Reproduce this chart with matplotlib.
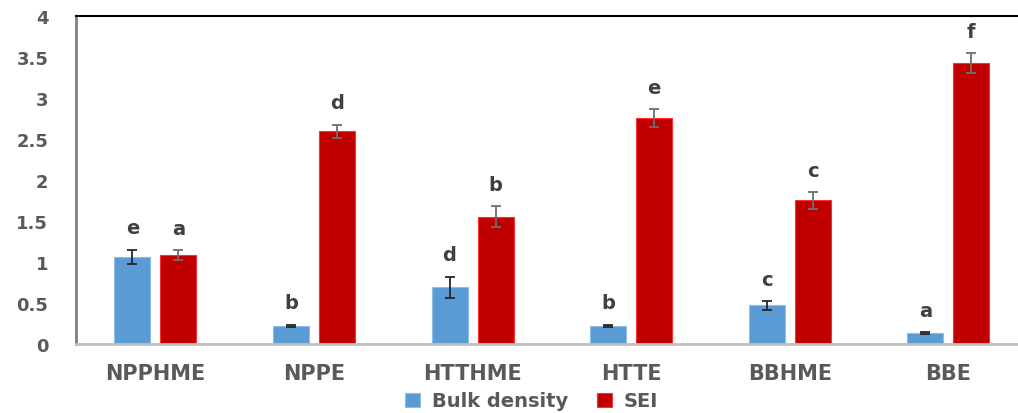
import numpy as np
import matplotlib.pyplot as plt

categories = ['NPPHME', 'NPPE', 'HTTHME', 'HTTE', 'BBHME', 'BBE']
bulk_density = [1.06, 0.22, 0.69, 0.22, 0.47, 0.13]
bulk_err = [0.09, 0.015, 0.13, 0.015, 0.05, 0.01]
bulk_letters = ['e', 'b', 'd', 'b', 'c', 'a']
sei = [1.08, 2.59, 1.55, 2.75, 1.75, 3.42]
sei_err = [0.06, 0.08, 0.13, 0.11, 0.10, 0.12]
sei_letters = ['a', 'd', 'b', 'e', 'c', 'f']

blue = '#5b9bd5'
red = '#c00000'
grey = '#595959'

fig = plt.figure(figsize=(10.18, 4.14), dpi=100)
ax = fig.add_axes([0.0747, 0.1667, 0.9347, 0.793])

x = np.arange(len(categories))
w = 0.227
off = 0.145

ax.bar(x - off, bulk_density, w, color=blue, edgecolor='#8fbde6', linewidth=0.8,
       label='Bulk density', zorder=2)
ax.bar(x + off, sei, w, color=red, edgecolor='#ff3030', linewidth=0.8,
       label='SEI', zorder=2)
ax.errorbar(x - off, bulk_density, yerr=bulk_err, fmt='none', ecolor='#262626',
            elinewidth=1.3, capsize=3.5, capthick=1.3, zorder=3)
ax.errorbar(x + off, sei, yerr=sei_err, fmt='none', ecolor='#6e6e6e',
            elinewidth=1.3, capsize=3.5, capthick=1.3, zorder=3)

# significance letters above each error bar
for xi, v, e, t in zip(x - off, bulk_density, bulk_err, bulk_letters):
    ax.annotate(t, (xi, v + e), xytext=(0, 9), textcoords='offset points',
                ha='center', va='bottom', fontsize=14, fontweight='bold', color='#404040')
for xi, v, e, t in zip(x + off, sei, sei_err, sei_letters):
    ax.annotate(t, (xi, v + e), xytext=(0, 9), textcoords='offset points',
                ha='center', va='bottom', fontsize=14, fontweight='bold', color='#404040')

ax.set_xlim(-0.5, 5.5)
ax.set_ylim(0, 4)
ax.set_yticks(np.arange(0, 4.01, 0.5))
ax.set_yticklabels(['0', '0.5', '1', '1.5', '2', '2.5', '3', '3.5', '4'])
ax.set_xticks(x)
ax.set_xticklabels(categories)
ax.tick_params(axis='y', length=0, pad=20, labelsize=13, labelcolor=grey)
ax.tick_params(axis='x', length=0, pad=14, labelsize=15, labelcolor=grey)
for lab in ax.get_xticklabels() + ax.get_yticklabels():
    lab.set_fontweight('bold')

ax.spines['top'].set_color('black')
ax.spines['top'].set_linewidth(1.5)
ax.spines['left'].set_color('#7f7f7f')
ax.spines['left'].set_linewidth(2)
ax.spines['bottom'].set_color('#bfbfbf')
ax.spines['bottom'].set_linewidth(2)
ax.spines['right'].set_visible(False)

fig.legend(loc='center', bbox_to_anchor=(0.522, 0.029), ncol=2, frameon=False,
           prop={'weight': 'bold', 'size': 14}, labelcolor=grey,
           handlelength=0.75, handleheight=0.75, handletextpad=0.6, columnspacing=1.5)

fig.savefig('out.png', dpi=100)
